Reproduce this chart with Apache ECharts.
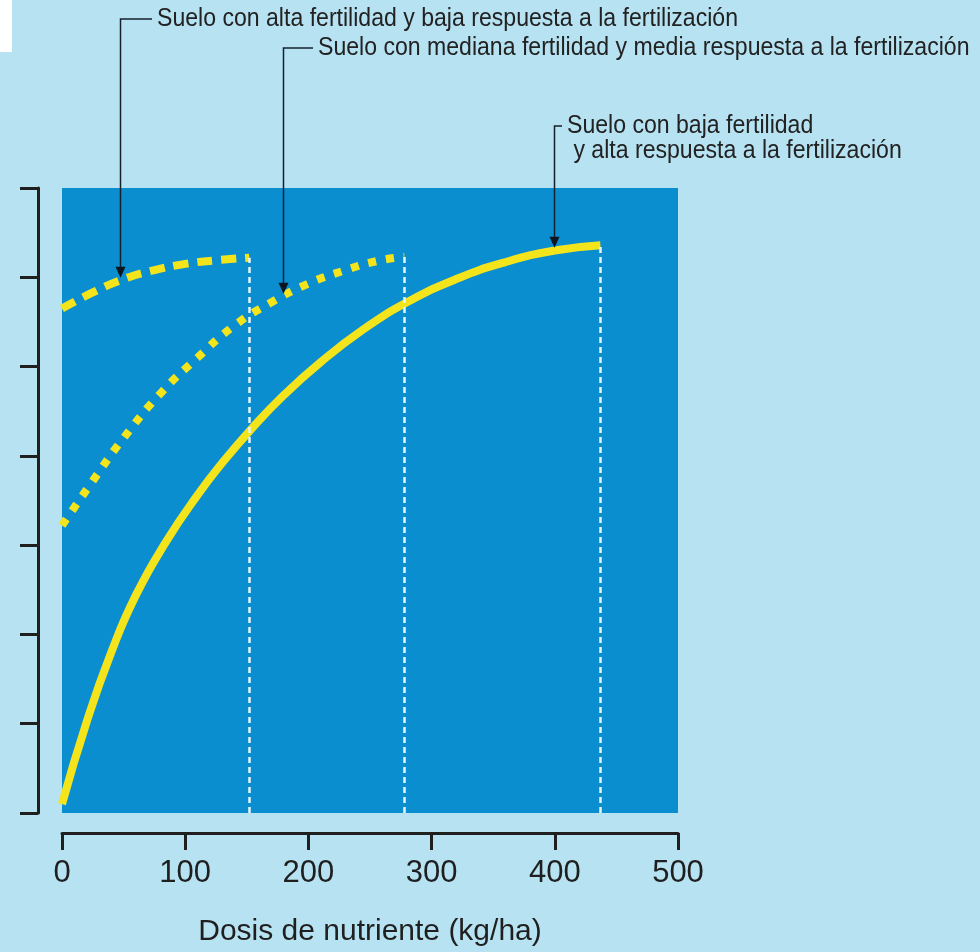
<!DOCTYPE html>
<html>
<head>
<meta charset="utf-8">
<title>Respuesta a la fertilización</title>
<script src="https://cdn.jsdelivr.net/npm/echarts@6/dist/echarts.min.js"></script>
<style>
  html, body { margin: 0; padding: 0; background: #b6e2f2; }
  #chart { width: 980px; height: 952px; }
</style>
</head>
<body>
<div id="chart"></div>
<script>
  "use strict";

  // dosis (kg/ha) y rendimiento relativo, leidos a ojo del grafico
  var altaDosis = [0, 25, 50, 75, 100, 125, 152];
  var altaRend = [56.5, 58.3, 59.8, 60.8, 61.5, 61.9, 62.2];

  var medianaDosis = [0, 25, 50, 80, 110, 140, 170, 200, 230, 255, 278];
  var medianaRend = [32.2, 37.2, 42, 47, 51, 54.6, 57.2, 59.3, 60.8, 61.8, 62.3];

  var bajaDosis = [0, 20, 40, 60, 85, 110, 130, 153, 180, 210, 245, 280, 320, 360, 400, 437];
  var bajaRend = [1, 10.2, 18, 24.4, 30.5, 35.6, 39.2, 42.9, 46.8, 50.5, 54.2, 57.2, 59.8, 61.7, 63, 63.6];

  var xTicks = [0, 100, 200, 300, 400, 500];
  var yTicks = [0, 10, 20, 30, 40, 50, 60, 70]; // sin etiquetas en el original

  // textos de las flechas y la dosis donde cada flecha toca su curva
  var notas = [
    ["Suelo con alta fertilidad y baja respuesta a la fertilización"],
    ["Suelo con mediana fertilidad y media respuesta a la fertilización"],
    ["Suelo con baja fertilidad", " y alta respuesta a la fertilización"]
  ];
  var notaDosis = [47, 179, 399];

  var AMARILLO = "#f4e41c";
  var TINTA = "#1f1f1f";
  var LETRA = "'Liberation Sans'";

  var chart = echarts.init(document.getElementById("chart"));

  function pares(xs, ys) {
    return xs.map(function (x, i) { return [x, ys[i]]; });
  }

  function ultimo(xs, ys) {
    return [xs[xs.length - 1], ys[ys.length - 1]];
  }

  // linea blanca punteada desde el final de la curva hasta el eje
  function caida(xs, ys) {
    var fin = ultimo(xs, ys);
    return {
      silent: true,
      symbol: "none",
      label: { show: false },
      lineStyle: { color: "#e4f6fd", width: 2.5, type: [6, 4] },
      data: [[{ coord: [fin[0], 0] }, { coord: fin }]]
    };
  }

  function curva(nombre, xs, ys, tipo) {
    return {
      name: nombre,
      type: "line",
      data: pares(xs, ys),
      smooth: true,
      symbol: "none",
      silent: true,
      lineStyle: { color: AMARILLO, width: 8, type: tipo, cap: "butt" },
      markLine: caida(xs, ys)
    };
  }

  function enCurva(xs, ys, x) {
    for (var i = 1; i < xs.length; i++) {
      if (x <= xs[i]) {
        var t = (x - xs[i - 1]) / (xs[i] - xs[i - 1]);
        return ys[i - 1] + t * (ys[i] - ys[i - 1]);
      }
    }
    return ys[ys.length - 1];
  }

  chart.setOption({
    backgroundColor: "#b6e2f2",
    animation: false,
    grid: {
      left: 62, right: 302, top: 188, bottom: 139,
      show: true, backgroundColor: "#0a8ed0", borderWidth: 0
    },
    xAxis: {
      type: "value",
      min: xTicks[0], max: xTicks[xTicks.length - 1], interval: xTicks[1] - xTicks[0],
      offset: 20,
      name: "Dosis de nutriente (kg/ha)",
      nameLocation: "middle",
      nameGap: 84,
      nameTextStyle: { fontFamily: LETRA, fontSize: 30, color: TINTA },
      axisLine: { onZero: false, lineStyle: { color: TINTA, width: 3 } },
      axisTick: { length: 17, lineStyle: { color: TINTA, width: 3 } },
      axisLabel: { margin: 25, fontFamily: LETRA, fontSize: 31, color: TINTA },
      splitLine: { show: false }
    },
    yAxis: {
      type: "value",
      min: yTicks[0], max: yTicks[yTicks.length - 1], interval: yTicks[1] - yTicks[0],
      offset: 24,
      axisLine: { show: true, onZero: false, lineStyle: { color: TINTA, width: 3 } },
      axisTick: { show: true, length: 18, lineStyle: { color: TINTA, width: 3 } },
      axisLabel: { show: false },
      splitLine: { show: false }
    },
    series: [
      curva("alta", altaDosis, altaRend, [15, 9]),
      curva("mediana", medianaDosis, medianaRend, [8, 10]),
      curva("baja", bajaDosis, bajaRend, "solid")
    ]
  });

  // --- notas con flecha ---
  var FUENTE = "26px " + LETRA;
  var ctx = document.createElement("canvas").getContext("2d");
  ctx.font = FUENTE;
  // la letra del original es condensada; la primera nota mide 581 px
  var estrecho = 581 / ctx.measureText(notas[0][0]).width;

  var textoPos = [[157, 19], [318, 48], [567, 126]];
  var curvas = [[altaDosis, altaRend], [medianaDosis, medianaRend], [bajaDosis, bajaRend]];

  var graficos = [{
    type: "rect", shape: { x: 0, y: 0, width: 12, height: 52 },
    style: { fill: "#ffffff" }, silent: true
  }];

  notas.forEach(function (lineas, i) {
    var c = curvas[i];
    var punta = chart.convertToPixel({ xAxisIndex: 0, yAxisIndex: 0 },
      [notaDosis[i], enCurva(c[0], c[1], notaDosis[i])]);
    var px = Math.round(punta[0]) + 0.5;
    var py = punta[1] - 3;
    var tx = textoPos[i][0], ty = textoPos[i][1];

    graficos.push({
      type: "polyline", silent: true, z: 10,
      shape: { points: [[tx - 5, ty], [px, ty], [px, py - 9]] },
      style: { stroke: "#14202c", lineWidth: 1.5, fill: null }
    });
    graficos.push({
      type: "polygon", silent: true, z: 10,
      shape: { points: [[px - 5, py - 11], [px + 5, py - 11], [px, py]] },
      style: { fill: "#0c1620" }
    });
    lineas.forEach(function (linea, j) {
      graficos.push({
        type: "text", silent: true, z: 10,
        x: tx, y: ty + j * 25, scaleX: estrecho,
        style: {
          text: linea, font: FUENTE, fill: "#222222",
          textAlign: "left", textVerticalAlign: "middle"
        }
      });
    });
  });

  chart.setOption({ graphic: graficos });
</script>
</body>
</html>
